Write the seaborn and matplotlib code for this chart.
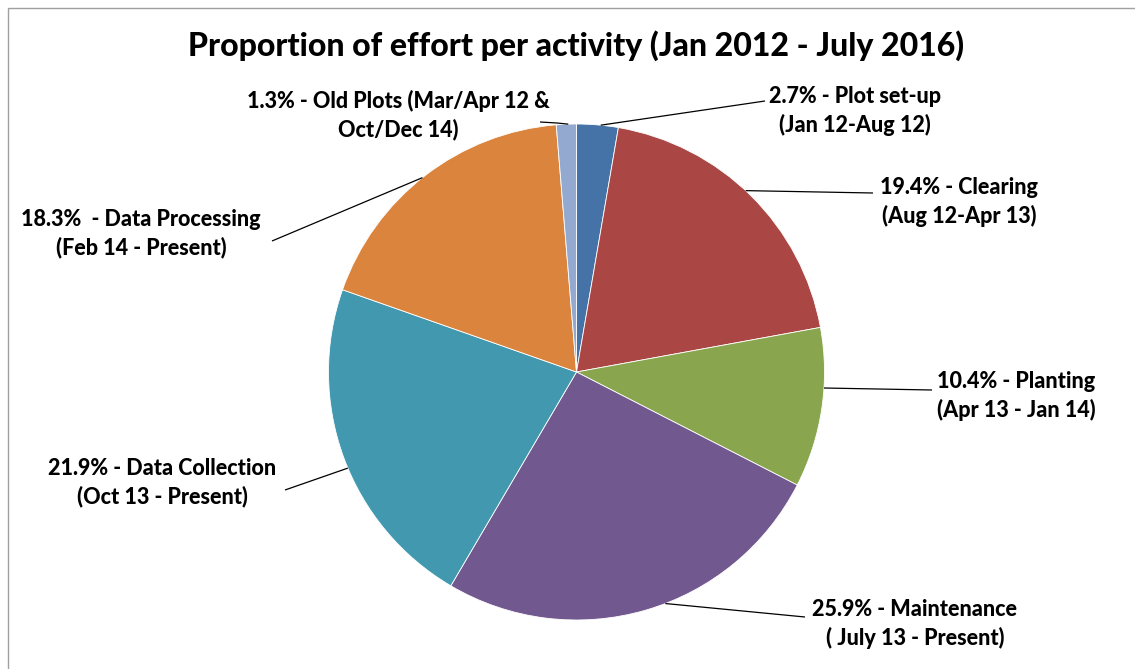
import matplotlib
matplotlib.use("Agg")
import numpy as np
import matplotlib.pyplot as plt
from matplotlib.patches import Rectangle
import seaborn as sns

# ---- data ----------------------------------------------------------------
activities = ["Plot set-up", "Clearing", "Planting", "Maintenance",
              "Data Collection", "Data Processing", "Old Plots (Mar/Apr 12 &"]
periods = ["(Jan 12-Aug 12)", "(Aug 12-Apr 13)", "(Apr 13 - Jan 14)",
           "( July 13 - Present)", "(Oct 13 - Present)", "(Feb 14 - Present)",
           "Oct/Dec 14)"]
separators = [" - ", " - ", " - ", " - ", " - ", "  - ", " - "]
shares = [2.7, 19.4, 10.4, 25.9, 21.9, 18.3, 1.3]
title = "Proportion of effort per activity (Jan 2012 - July 2016)"

colors = ["#4572A7", "#AA4643", "#89A54E", "#71588F",
          "#4198AF", "#DB843D", "#93A9CF"]

# ---- layout (pixel coordinates, y downwards) -------------------------------
W, H = 1135, 669
cx, cy, R = 576.5, 372.0, 248.0
label_xy = [(855, 111), (959, 202), (1016, 396), (915, 624),
            (162, 483), (141, 234), (398, 115)]
# angle (clockwise from 12 o'clock) where each leader line meets the pie
leader_angle = [5.6, 43.0, 93.7, 159.0, 247.2, 321.6, 358.1]
# label-side points of each leader line
leader_pts = [[(765, 101)], [(873, 193)], [(932, 390)], [(805, 617)],
              [(285, 490)], [(272, 241)], [(540, 122), (557, 123)]]

sns.set_theme(style="white")
plt.rcParams["font.family"] = ["Lato", "DejaVu Sans"]

fig = plt.figure(figsize=(W / 100, H / 100), dpi=100)
ax = fig.add_axes([0, 0, 1, 1])

palette = sns.color_palette(colors)
ax.pie(shares, colors=palette, startangle=270, counterclock=True,
       center=(cx, cy), radius=R,
       wedgeprops=dict(edgecolor="white", linewidth=0.6))

ax.set_xlim(0, W)
ax.set_ylim(H, 0)
ax.set_aspect("equal")
ax.axis("off")

# chart-area frame
ax.add_patch(Rectangle((8, 7.5), W + 50, H + 50, fill=False,
                       edgecolor="#A0A0A0", linewidth=1.0, clip_on=False))

ax.text(cx, 46, title, ha="center", va="center", fontsize=23,
        fontweight=900, color="black")

for name, per, sep, val, (lx, ly), ang, pts in zip(
        activities, periods, separators, shares, label_xy,
        leader_angle, leader_pts):
    a = np.deg2rad(ang)
    ex, ey = cx + R * np.sin(a), cy - R * np.cos(a)
    xs = [p[0] for p in pts] + [ex]
    ys = [p[1] for p in pts] + [ey]
    ax.plot(xs, ys, color="black", linewidth=0.9, solid_capstyle="butt")
    ax.text(lx, ly, f"{val:.1f}%{sep}{name}\n{per}", ha="center",
            va="center", multialignment="center", fontsize=15.5,
            fontweight=900, color="black", linespacing=1.35)

fig.savefig("out.png", dpi=100, facecolor="white")
